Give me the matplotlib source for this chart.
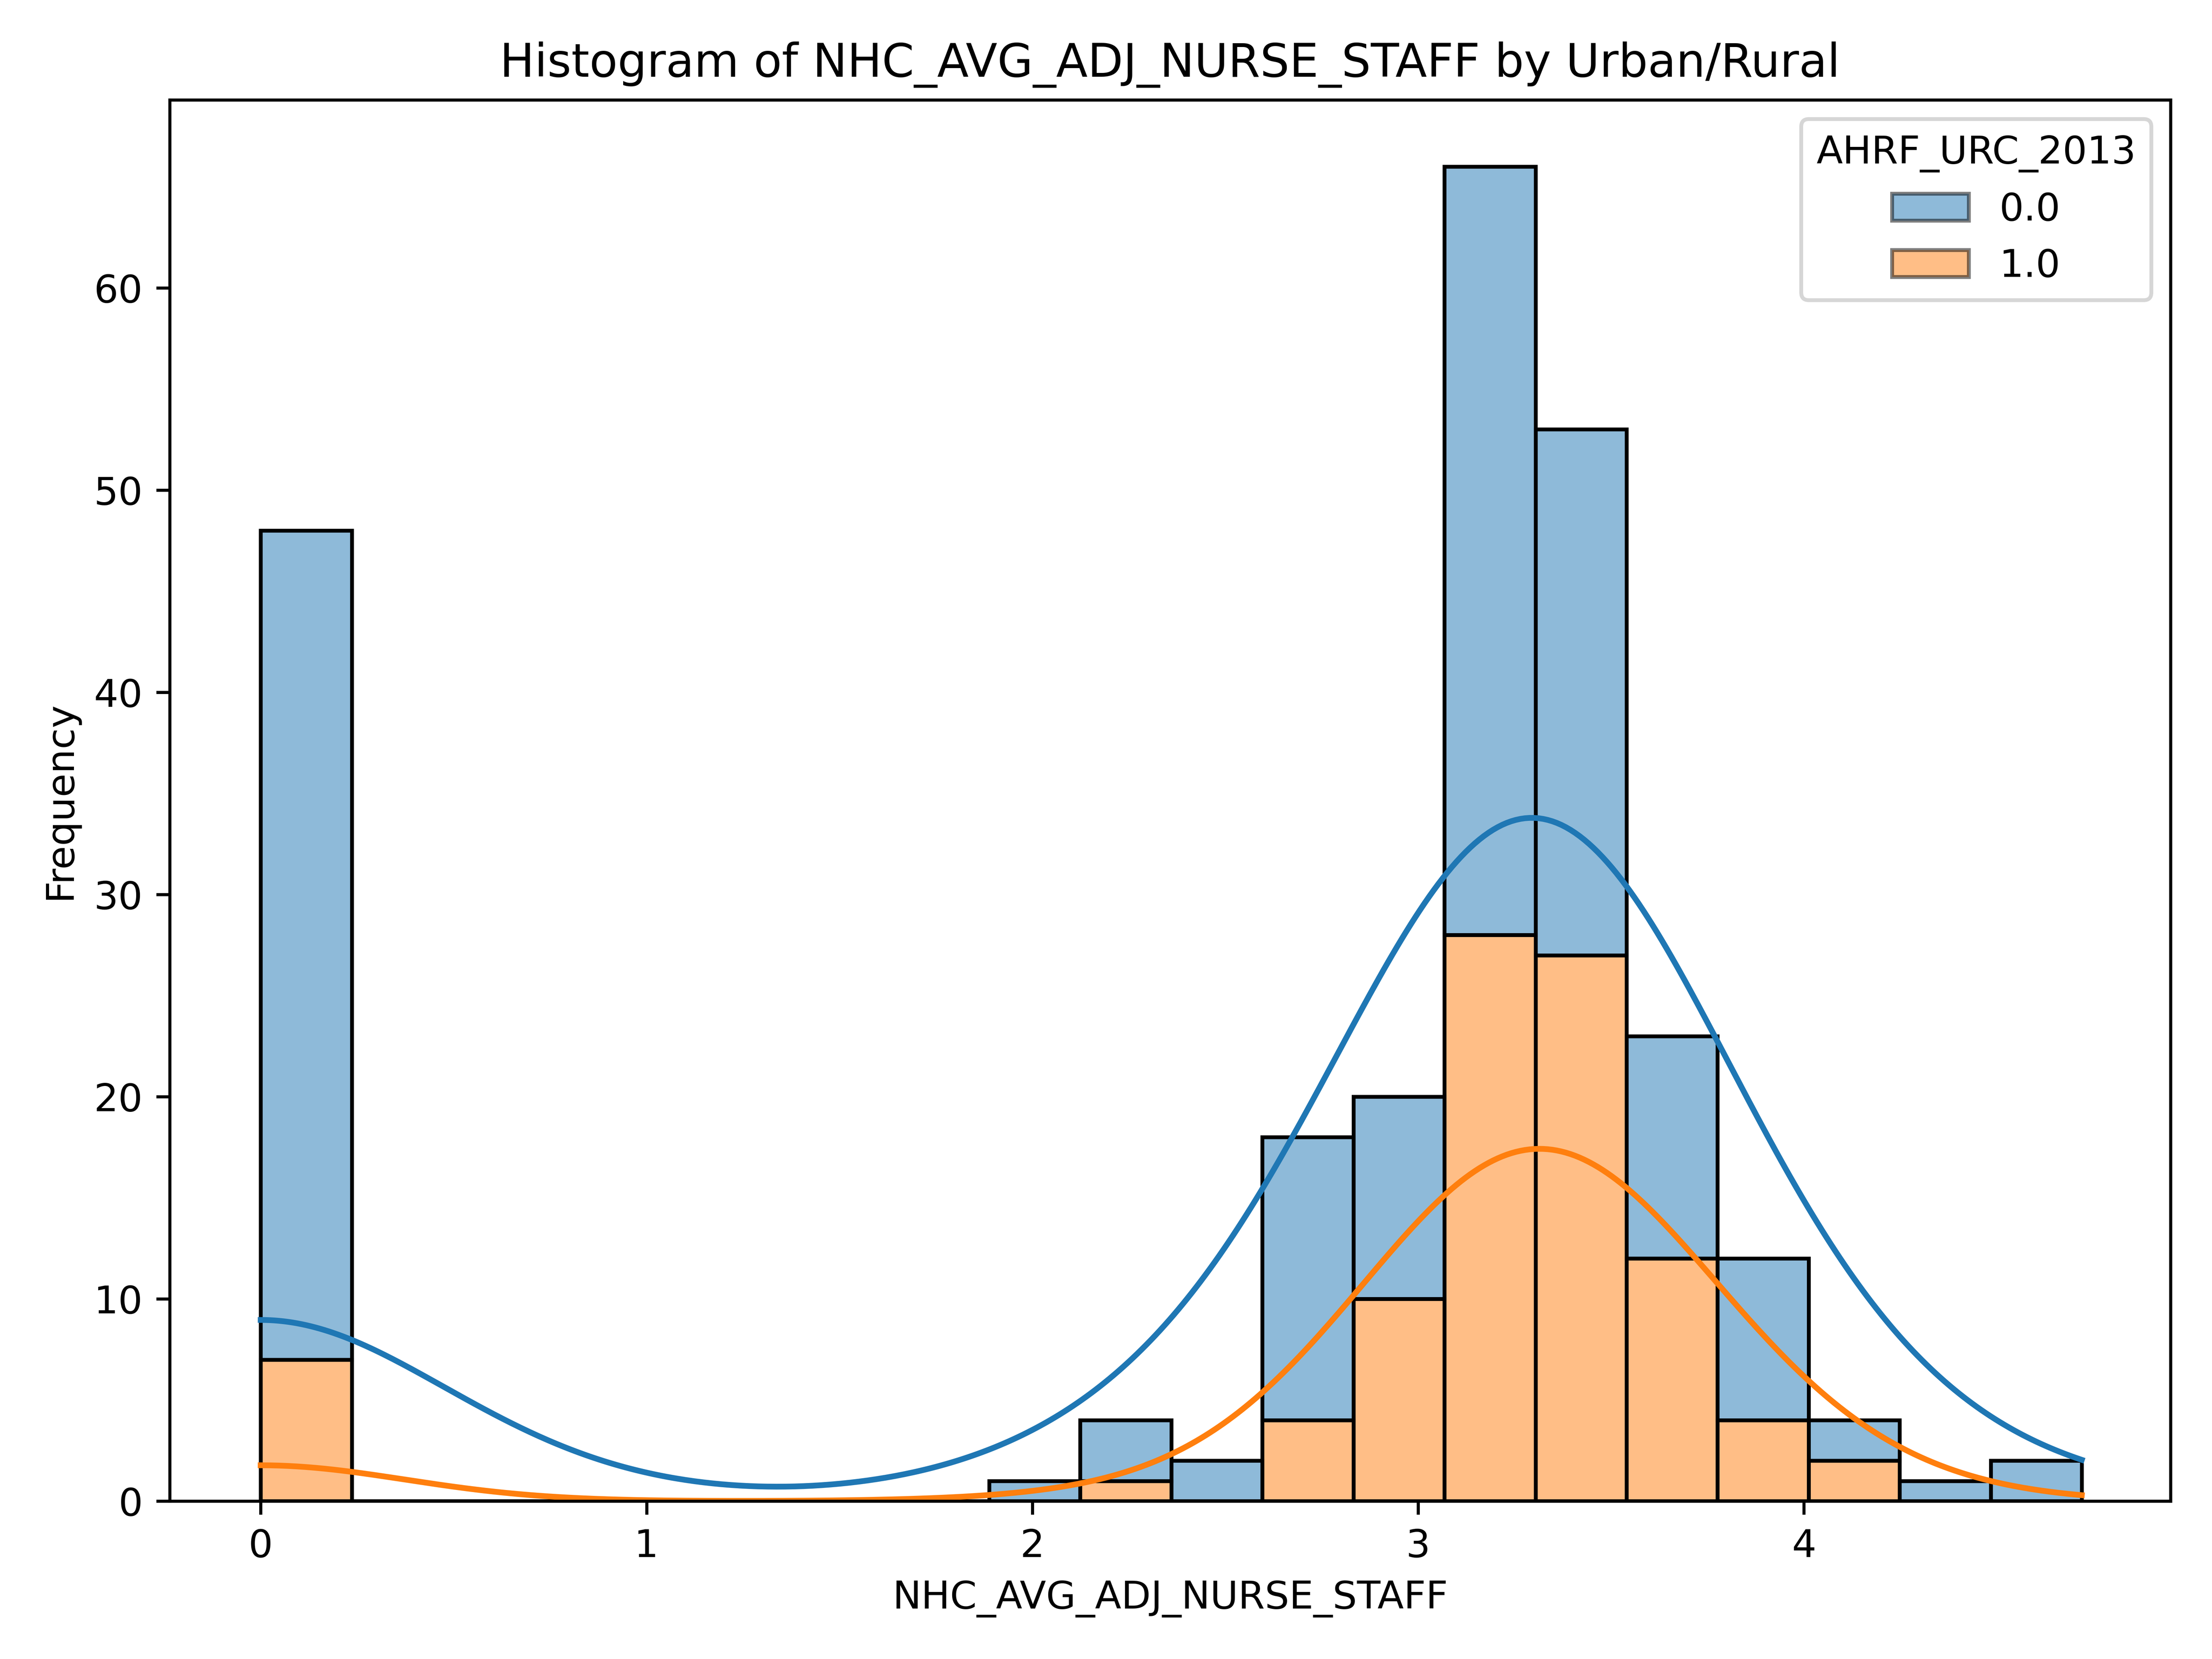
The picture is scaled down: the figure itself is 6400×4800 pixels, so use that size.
import matplotlib.pyplot as plt
import numpy as np
from matplotlib.patches import Patch

# histogram bins (20 bins from 0 to max)
x_min, x_max = 0.0, 4.72
n_bins = 20
# counts per bin, group AHRF_URC_2013 = 0.0 (urban) and 1.0
counts_0 = [41, 0, 0, 0, 0, 0, 0, 0, 1, 3, 2, 14, 10, 38, 26, 11, 8, 2, 1, 2]
counts_1 = [7, 0, 0, 0, 0, 0, 0, 0, 0, 1, 0, 4, 10, 28, 27, 12, 4, 2, 0, 0]

blue, orange = '#1f77b4', '#ff7f0e'
edges = np.linspace(x_min, x_max, n_bins + 1)
width = edges[1] - edges[0]
centers = edges[:-1] + width / 2
centers[0] = 0.0  # the zero values sit exactly at 0

def kde(counts, grid):
    w = np.array(counts, float)
    mu = np.average(centers, weights=w)
    sd = np.sqrt(np.average((centers - mu) ** 2, weights=w) * w.sum() / (w.sum() - 1))
    bw = sd * w.sum() ** (-1 / 5)
    dens = (w[:, None] * np.exp(-0.5 * ((grid[None, :] - centers[:, None]) / bw) ** 2)).sum(0)
    return dens / (bw * np.sqrt(2 * np.pi)) * width

fig, ax = plt.subplots(figsize=(8, 6), dpi=800)
c0 = np.array(counts_0); c1 = np.array(counts_1)
ax.bar(edges[:-1], c1, width=width, align='edge', color=orange, alpha=0.5, edgecolor='none')
ax.bar(edges[:-1], c0, width=width, bottom=c1, align='edge', color=blue, alpha=0.5, edgecolor='none')
ax.bar(edges[:-1], c1, width=width, align='edge', fill=False, edgecolor='black', linewidth=1)
ax.bar(edges[:-1], c0, width=width, bottom=c1, align='edge', fill=False, edgecolor='black', linewidth=1)

grid = np.linspace(x_min, x_max, 400)
k1 = kde(counts_1, grid)
k0 = kde(counts_0, grid)
ax.plot(grid, k1, color=orange, lw=1.5)
ax.plot(grid, k0 + k1, color=blue, lw=1.5)

ax.set_title('Histogram of NHC_AVG_ADJ_NURSE_STAFF by Urban/Rural')
ax.set_xlabel('NHC_AVG_ADJ_NURSE_STAFF')
ax.set_ylabel('Frequency')
ax.set_xlim(-0.236, 4.95)
ax.set_ylim(0, 69.3)
ax.legend(handles=[Patch(facecolor=blue, alpha=0.5, edgecolor='black'),
                   Patch(facecolor=orange, alpha=0.5, edgecolor='black')],
          labels=['0.0', '1.0'], title='AHRF_URC_2013', loc='upper right')
fig.tight_layout()
fig.savefig('out.png')
